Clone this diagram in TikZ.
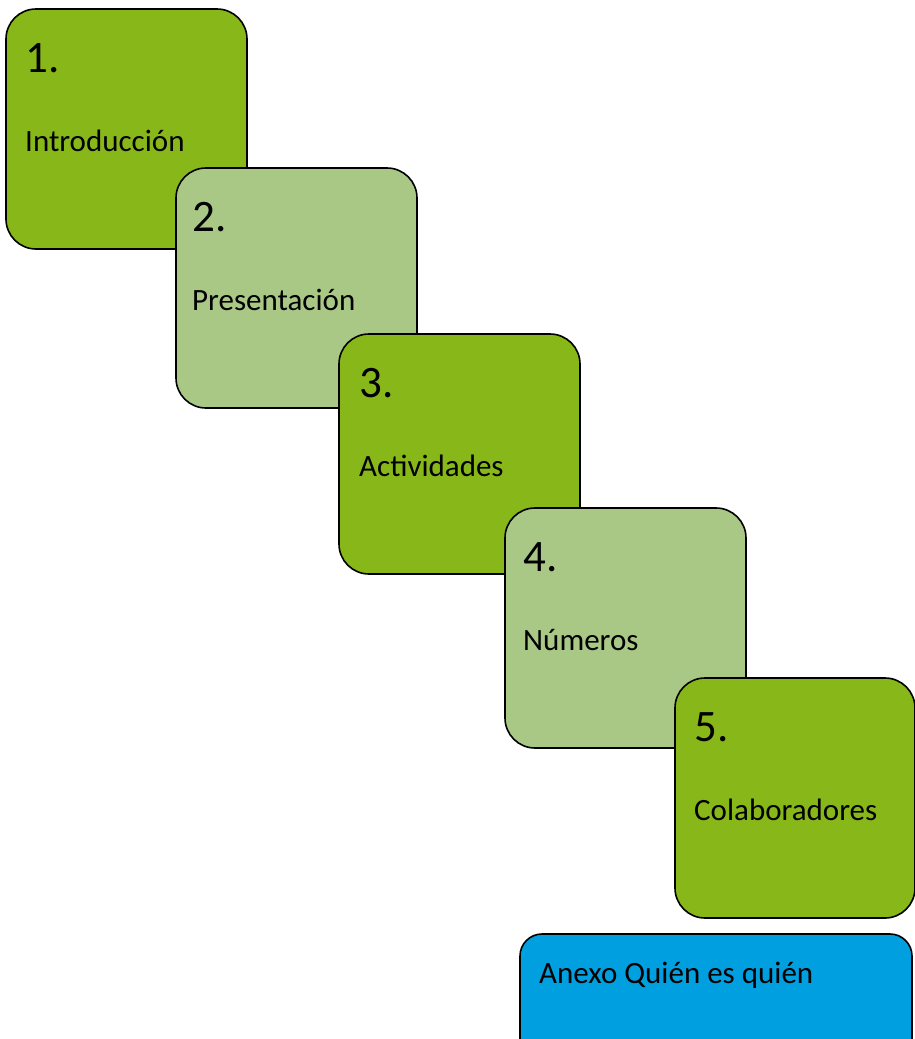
\documentclass[tikz,border=0pt]{standalone}
\usepackage{fontspec}
\setmainfont{Carlito}
\definecolor{gdark}{HTML}{88B71A}
\definecolor{glight}{HTML}{A9C885}
\definecolor{bblue}{HTML}{009FDF}
\tikzset{
  card/.style={draw=black, line width=1.6pt, rounded corners=30pt, anchor=north west,
    minimum width=241pt, minimum height=240pt, inner sep=0pt, outer sep=0pt},
  numtxt/.style={anchor=base west, inner sep=0pt, font=\fontsize{45}{47}\selectfont},
  labtxt/.style={anchor=base west, inner sep=0pt, font=\fontsize{31}{33}\selectfont},
}
\begin{document}
\begin{tikzpicture}[x=1pt,y=-1pt]
\useasboundingbox (0,0) rectangle (915,1039);
\clip (0,0) rectangle (915,1039);
\node[card, fill=gdark] (b1) at (6,9) {};
\node[numtxt] (n1) at ([shift={(19,63)}]b1.north west) {1.};
\node[labtxt] (l1) at ([shift={(19,142)}]b1.north west) {Introducción};
\node[card, fill=glight] (b2) at (176,168) {};
\node[numtxt] (n2) at ([shift={(16,63)}]b2.north west) {2.};
\node[labtxt] (l2) at ([shift={(16,142)}]b2.north west) {Presentación};
\node[card, fill=gdark] (b3) at (339,334) {};
\node[numtxt] (n3) at ([shift={(20,63)}]b3.north west) {3.};
\node[labtxt] (l3) at ([shift={(20,142)}]b3.north west) {Actividades};
\node[card, fill=glight] (b4) at (505,508) {};
\node[numtxt] (n4) at ([shift={(18,63)}]b4.north west) {4.};
\node[labtxt] (l4) at ([shift={(18,142)}]b4.north west) {Números};
\node[card, fill=gdark, minimum width=240pt] (b5) at (675,678) {};
\node[numtxt] (n5) at ([shift={(19,63)}]b5.north west) {5.};
\node[labtxt] (l5) at ([shift={(19,142)}]b5.north west) {Colaboradores};
\node[card, fill=bblue, minimum width=392pt, minimum height=160pt, rounded corners=22pt] (b6) at (520,934) {};
\node[labtxt] (l6) at ([shift={(19,49)}]b6.north west) {Anexo Quién es quién};
\end{tikzpicture}
\end{document}
